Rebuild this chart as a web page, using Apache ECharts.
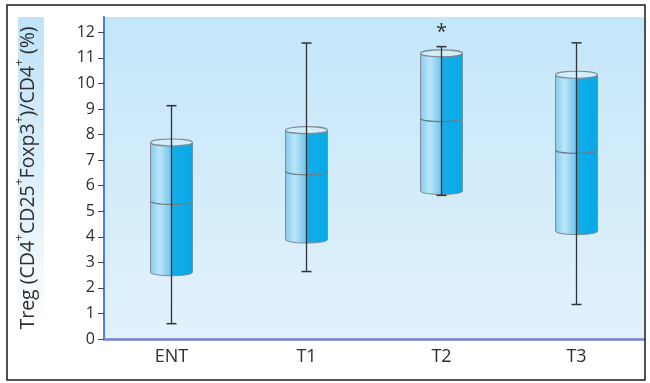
<!DOCTYPE html>
<html>
<head>
<meta charset="utf-8">
<script src="https://cdn.jsdelivr.net/npm/echarts@6/dist/echarts.min.js"></script>
<style>
  html, body { margin: 0; padding: 0; background: #ffffff; }
  #chart { width: 650px; height: 383px; }
</style>
</head>
<body>
<div id="chart"></div>
<script>
// Treg percentage per time point: whisker low, Q1, median, Q3, whisker high
const categories = ['ENT', 'T1', 'T2', 'T3'];
const whiskerLow = [0.60, 2.64, 5.62, 1.35];
const q1 = [2.61, 3.89, 5.79, 4.22];
const median = [5.40, 6.56, 8.64, 7.40];
const q3 = [7.69, 8.17, 11.18, 10.34];
const whiskerHigh = [9.13, 11.58, 11.44, 11.59];
const significance = ['', '', '*', ''];
const yTicks = [0, 1, 2, 3, 4, 5, 6, 7, 8, 9, 10, 11, 12];

const FONT = '"Open Sans", "Noto Sans", sans-serif';

const boxData = categories.map((c, i) => [i, whiskerLow[i], q1[i], median[i], q3[i], whiskerHigh[i]]);

// Each box is drawn as a shaded cylinder with a whisker running through it
function renderCylinder(params, api) {
  const i = api.value(0);
  const lo = api.coord([i, api.value(1)]);
  const b = api.coord([i, api.value(2)]);
  const m = api.coord([i, api.value(3)]);
  const t = api.coord([i, api.value(4)]);
  const hi = api.coord([i, api.value(5)]);
  const w = api.size([1, 0])[0] * 0.31;
  const cx = m[0];
  const hw = w / 2;
  const ry = 3.5;
  const x0 = cx - hw, x1 = cx + hw;
  const capW = 5;

  const bodyPath = 'M' + x0 + ' ' + t[1] + ' L' + x0 + ' ' + b[1] +
    ' A' + hw + ' ' + ry + ' 0 0 0 ' + x1 + ' ' + b[1] +
    ' L' + x1 + ' ' + t[1] + ' Z';
  const medPath = 'M' + x0 + ' ' + m[1] + ' A' + hw + ' ' + ry + ' 0 0 0 ' + x1 + ' ' + m[1];

  const children = [
    {
      type: 'path',
      shape: { pathData: bodyPath },
      style: {
        fill: new echarts.graphic.LinearGradient(0, 0, 1, 0, [
          { offset: 0, color: '#7fcbf0' },
          { offset: 0.22, color: '#bde5f8' },
          { offset: 0.48, color: '#6fc7f0' },
          { offset: 0.5, color: '#12aeea' },
          { offset: 1, color: '#08a9e6' }
        ]),
        stroke: '#7d8a92',
        lineWidth: 1
      }
    },
    {
      type: 'path',
      shape: { pathData: medPath },
      style: { fill: null, stroke: '#6f7c84', lineWidth: 1.2 }
    },
    {
      type: 'ellipse',
      shape: { cx: cx, cy: t[1], rx: hw, ry: ry },
      style: { fill: '#d3eefa', stroke: '#7d8a92', lineWidth: 1.2 }
    },
    {
      type: 'line',
      shape: { x1: cx, y1: hi[1], x2: cx, y2: lo[1] },
      style: { stroke: '#2f3438', lineWidth: 1.3 }
    },
    {
      type: 'line',
      shape: { x1: cx - capW, y1: hi[1], x2: cx + capW, y2: hi[1] },
      style: { stroke: '#2f3438', lineWidth: 1.5 }
    },
    {
      type: 'line',
      shape: { x1: cx - capW, y1: lo[1], x2: cx + capW, y2: lo[1] },
      style: { stroke: '#2f3438', lineWidth: 1.5 }
    }
  ];
  const mark = significance[i];
  if (mark) {
    children.push({
      type: 'text',
      style: {
        text: mark, x: cx, y: hi[1] - 4,
        align: 'center', verticalAlign: 'bottom',
        fontSize: 20, fontFamily: FONT, fill: '#333333'
      }
    });
  }
  return { type: 'group', children: children };
}

const chart = echarts.init(document.getElementById('chart'), null, { renderer: 'canvas' });

chart.setOption({
  animation: false,
  backgroundColor: '#ffffff',
  grid: {
    left: 104, top: 17, right: 6, bottom: 44,
    show: true,
    borderWidth: 0,
    backgroundColor: new echarts.graphic.LinearGradient(0, 0, 0, 1, [
      { offset: 0, color: '#c3e6f9' },
      { offset: 1, color: '#e3f2fc' }
    ])
  },
  graphic: [
    {
      type: 'rect',
      shape: { x: 7, y: 5, width: 638, height: 375 },
      style: { fill: null, stroke: '#1a1a1a', lineWidth: 1.5 },
      z: 100
    },
    {
      type: 'rect',
      shape: { x: 18, y: 17, width: 26, height: 316 },
      style: {
        fill: new echarts.graphic.LinearGradient(0, 0, 0, 1, [
          { offset: 0, color: '#bfe3f7' },
          { offset: 0.55, color: '#dff0fb' },
          { offset: 1, color: '#ffffff' }
        ])
      },
      z: 0
    }
  ],
  xAxis: {
    type: 'category',
    data: categories,
    boundaryGap: true,
    axisLine: { show: true, lineStyle: { color: '#7683d3', width: 2.5 } },
    axisTick: { show: false },
    axisLabel: { color: '#2e2e2e', fontSize: 18, fontFamily: FONT, margin: 9 },
    splitLine: { show: false }
  },
  yAxis: {
    type: 'value',
    min: 0,
    max: 12.6,
    interval: 1,
    axisLine: { show: true, onZero: false, lineStyle: { color: '#4a7fdc', width: 2 } },
    axisTick: { show: true, length: 6, customValues: yTicks, lineStyle: { color: '#444444', width: 1 } },
    axisLabel: { customValues: yTicks, color: '#2e2e2e', fontSize: 16, fontFamily: FONT, margin: 9 },
    splitLine: { show: false },
    name: '{b|Treg (CD4}{s|+}{b|CD25}{s|+}{b|Foxp3}{s|+}{b|)/CD4}{s|+}{b| (%)}',
    nameLocation: 'middle',
    nameRotate: 90,
    nameGap: 66,
    nameTextStyle: {
      rich: {
        b: { fontSize: 19.5, fontFamily: FONT, color: '#2e2e2e', lineHeight: 24, verticalAlign: 'bottom' },
        s: { fontSize: 12, fontFamily: FONT, color: '#2e2e2e', lineHeight: 24, verticalAlign: 'top' }
      }
    }
  },
  series: [
    {
      type: 'custom',
      renderItem: renderCylinder,
      data: boxData,
      encode: { x: 0, y: [1, 2, 3, 4, 5] },
      z: 5
    }
  ]
});
</script>
</body>
</html>
